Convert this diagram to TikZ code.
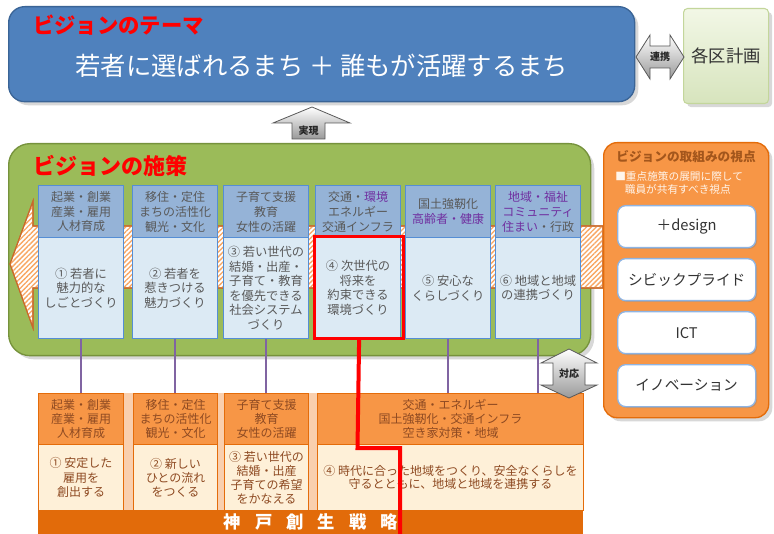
\documentclass[tikz,border=0pt]{standalone}
\usepackage{fontspec}
\setmainfont{Noto Sans CJK JP}
\usetikzlibrary{patterns,patterns.meta,shadows}
\definecolor{themeblue}{HTML}{4F81BD}
\definecolor{themeborder}{HTML}{3A6496}
\definecolor{leafgreen}{HTML}{9BBB59}
\definecolor{leafborder}{HTML}{76923C}
\definecolor{uphdr}{HTML}{95B3D7}
\definecolor{upbody}{HTML}{DCEAF4}
\definecolor{upborder}{HTML}{558ED5}
\definecolor{txtgray}{HTML}{595959}
\definecolor{purptxt}{HTML}{7030A0}
\definecolor{orangefill}{HTML}{F79646}
\definecolor{orangeborder}{HTML}{E46C0A}
\definecolor{bandborder}{HTML}{C8692A}
\definecolor{creamfill}{HTML}{FEF0D8}
\definecolor{peach}{HTML}{F9CFAE}
\definecolor{browntxt}{HTML}{8E4A22}
\definecolor{darkorange}{HTML}{E26B0A}
\definecolor{purpline}{HTML}{8064A2}
\definecolor{titlebrown}{HTML}{A3561C}
\definecolor{planlight}{HTML}{F2F7E6}
\definecolor{plandark}{HTML}{D7E4BD}
\definecolor{planborder}{HTML}{C3D69B}
\definecolor{boxblue}{HTML}{8EB4E3}
\tikzset{
  box/.style={anchor=north west, inner sep=1pt, align=center},
  uph/.style={box, draw=upborder, fill=uphdr, line width=0.8pt, minimum width=63.75pt, minimum height=39pt, text=txtgray, font=\fontsize{9}{11.2}\selectfont},
  upb/.style={box, draw=upborder, fill=upbody, line width=0.8pt, minimum width=63.75pt, minimum height=75.75pt, text=txtgray, font=\fontsize{9.2}{10.9}\selectfont},
  loh/.style={box, draw=orangeborder, fill=orangefill, line width=0.8pt, minimum height=38.25pt, text=browntxt, font=\fontsize{9}{10.5}\selectfont},
  lob/.style={box, draw=orangeborder, fill=creamfill, line width=0.8pt, minimum height=49.5pt, text=browntxt, font=\fontsize{9}{10.6}\selectfont},
  viewbox/.style={box, draw=boxblue, fill=white, line width=1pt, rounded corners=6pt, minimum width=103.5pt, minimum height=31.5pt, text=black!80, font=\fontsize{11}{13}\selectfont, drop shadow={shadow xshift=1pt, shadow yshift=-1pt, opacity=0.35}},
  arrowshape/.style={top color=white, bottom color=black!40, draw=black!65, line width=0.6pt},
  arrowtxt/.style={font=\fontsize{7.5}{8}\selectfont\bfseries, text=black!85, inner sep=0pt},
  purp/.style={draw=purpline, line width=1.1pt},
}
\begin{document}
\begin{tikzpicture}[x=0.75pt,y=-0.75pt]
\useasboundingbox (0,0) rectangle (774,534);
\fill[white] (0,0) rectangle (774,534);

% theme box
\node[box, draw=themeborder, fill=themeblue, line width=1pt, rounded corners=12pt, minimum width=469.5pt, minimum height=71.25pt, drop shadow={opacity=0.3}] (theme) at (8,6) {};
\node[anchor=west, text=red, font=\fontsize{16}{18}\selectfont\bfseries, inner sep=0pt] (themetitle) at (33,25) {ビジョンのテーマ};
\node[text=white, font=\fontsize{19}{22}\selectfont, inner sep=0pt] (themetext) at (322,66) {若者に選ばれるまち ＋ 誰もが活躍するまち};

% plan box
\node[box, draw=planborder, top color=planlight, bottom color=plandark, line width=0.8pt, rounded corners=3pt, minimum width=63.75pt, minimum height=71.25pt, text=black!80, font=\fontsize{13}{15}\selectfont, drop shadow={opacity=0.3}] (plan) at (683,8) {各区計画};

% renkei arrow
\shadedraw[arrowshape] (636,57) -- (650,35) -- (650,46) -- (670,46) -- (670,35) -- (684,57) -- (670,79) -- (670,68) -- (650,68) -- (650,79) -- cycle;
\node[arrowtxt] (renkei) at (660,57) {連携};

% jitsugen arrow
\shadedraw[arrowshape] (312,107) -- (350,123) -- (325,123) -- (325,139) -- (292,139) -- (292,123) -- (273,123) -- cycle;
\node[arrowtxt] (jitsugen) at (308.5,131) {実現};

% green box
\node[box, draw=leafborder, fill=leafgreen, line width=1pt, rounded corners=16pt, minimum width=436.5pt, minimum height=159pt, drop shadow={opacity=0.3}] (measures) at (8,143) {};
\node[anchor=west, text=red, font=\fontsize{16.5}{18}\selectfont\bfseries, inner sep=0pt] (measurestitle) at (33,166) {ビジョンの施策};

% hatched band arrow
\filldraw[fill=white, draw=bandborder, line width=0.8pt] (10,264) -- (33,201) -- (33,226) -- (603,226) -- (603,288) -- (33,288) -- (33,328) -- cycle;
\path[pattern={Lines[angle=45, distance=2.6pt, line width=1pt]}, pattern color=orangefill!85] (10,264) -- (33,201) -- (33,226) -- (603,226) -- (603,288) -- (33,288) -- (33,328) -- cycle;
\draw[draw=bandborder, line width=0.8pt] (10,264) -- (33,201) -- (33,226) -- (603,226) -- (603,288) -- (33,288) -- (33,328) -- cycle;

% upper columns
\node[uph] (h1) at (38,185) {起業・創業\\産業・雇用\\人材育成};
\node[uph] (h2) at (132,185) {移住・定住\\まちの活性化\\観光・文化};
\node[uph] (h3) at (223,185) {子育て支援\\教育\\女性の活躍};
\node[uph] (h4) at (315,185) {交通・\textcolor{purptxt}{環境}\\エネルギー\\交通インフラ};
\node[uph] (h5) at (405,185) {国土強靭化\\\textcolor{purptxt}{高齢者・健康}};
\node[uph] (h6) at (495,185) {\textcolor{purptxt}{地域・福祉}\\\textcolor{purptxt}{コミュニティ}\\\textcolor{purptxt}{住まい}・行政};

\node[upb] (b1) at (38,237) {① 若者に\\魅力的な\\しごとづくり};
\node[upb] (b2) at (132,237) {② 若者を\\惹きつける\\魅力づくり};
\node[upb] (b3) at (223,237) {③ 若い世代の\\結婚・出産・\\子育て・教育\\を優先できる\\社会システム\\づくり};
\node[upb] (b4) at (315,237) {④ 次世代の\\将来を\\約束できる\\環境づくり};
\node[upb] (b5) at (405,237) {⑤ 安心な\\くらしづくり};
\node[upb] (b6) at (495,237) {⑥ 地域と地域\\の連携づくり};

% right orange box
\node[box, draw=orangeborder, fill=orangefill, line width=1pt, rounded corners=10pt, minimum width=123.75pt, minimum height=206.25pt, drop shadow={opacity=0.3}] (viewpoint) at (603,142) {};
\node[text=titlebrown, font=\fontsize{9.5}{11}\selectfont\bfseries, inner sep=0pt] (viewtitle) at (686,157) {ビジョンの取組みの視点};
\node[anchor=north west, align=left, text=white!92!orange, font=\fontsize{8}{10}\selectfont, inner sep=0pt] (viewsub) at (615,171) {■重点施策の展開に際して\\\hspace{0.9em}職員が共有すべき視点};
\node[viewbox] (v1) at (617,205) {＋design};
\node[viewbox] (v2) at (617,258) {シビックプライド};
\node[viewbox] (v3) at (617,311) {ICT};
\node[viewbox] (v4) at (617,364) {イノベーション};

% lower strategy
\fill[peach] (38,393) rectangle (583,510);
\node[loh, minimum width=63.75pt] (l1) at (38,393) {起業・創業\\産業・雇用\\人材育成};
\node[loh, minimum width=63pt] (l2) at (133,393) {移住・定住\\まちの活性化\\観光・文化};
\node[loh, minimum width=63pt] (l3) at (224,393) {子育て支援\\教育\\女性の活躍};
\node[loh, minimum width=199.5pt] (l4) at (317,393) {交通・エネルギー\\国土強靭化・交通インフラ\\空き家対策・地域};
\node[lob, minimum width=63.75pt] (k1) at (38,444) {① 安定した\\雇用を\\創出する};
\node[lob, minimum width=63pt] (k2) at (133,444) {② 新しい\\ひとの流れ\\をつくる};
\node[lob, minimum width=63pt] (k3) at (224,444) {③ 若い世代の\\結婚・出産\\子育ての希望\\をかなえる};
\node[lob, minimum width=199.5pt, font=\fontsize{9}{9.8}\selectfont] (k4) at (317,444) {④ 時代に合った地域をつくり、安全なくらしを\\守るとともに、地域と地域を連携する};
\node[box, fill=darkorange, minimum width=408.75pt, minimum height=18pt, text=white, font=\fontsize{13}{15}\selectfont\bfseries, inner sep=0pt] (kobe) at (38,510) {神\hspace{10.5pt}戸\hspace{10.5pt}創\hspace{10.5pt}生\hspace{10.5pt}戦\hspace{10.5pt}略};

% purple connectors
\draw[purp] (b1.south) -- (b1.south |- l1.north);
\draw[purp] (b2.south) -- (b2.south |- l2.north);
\draw[purp] (b3.south) -- (b3.south |- l3.north);
\draw[purp] (b4.south) -- (b4.south |- l4.north);
\draw[purp] (b5.south) -- (b5.south |- l4.north);
\draw[purp] (b6.south) -- (b6.south |- l4.north);

% taiou arrow
\shadedraw[arrowshape] (569,349) -- (597,363) -- (585,363) -- (585,385) -- (597,385) -- (569,398) -- (541,385) -- (553,385) -- (553,363) -- (541,363) -- cycle;
\node[arrowtxt] (taiou) at (569,374) {対応};

% red highlight
\node[box, draw=red, line width=2.4pt, minimum width=66.75pt, minimum height=76.5pt] (r4) at (313,235) {};
\coordinate (rc1) at (357.5,448);
\coordinate (rc2) at (400,448);
\coordinate (rc3) at (400,534);
\draw[red, line width=3pt] (r4.south) -- (rc1) -- (rc2) -- (rc3);
\end{tikzpicture}
\end{document}
